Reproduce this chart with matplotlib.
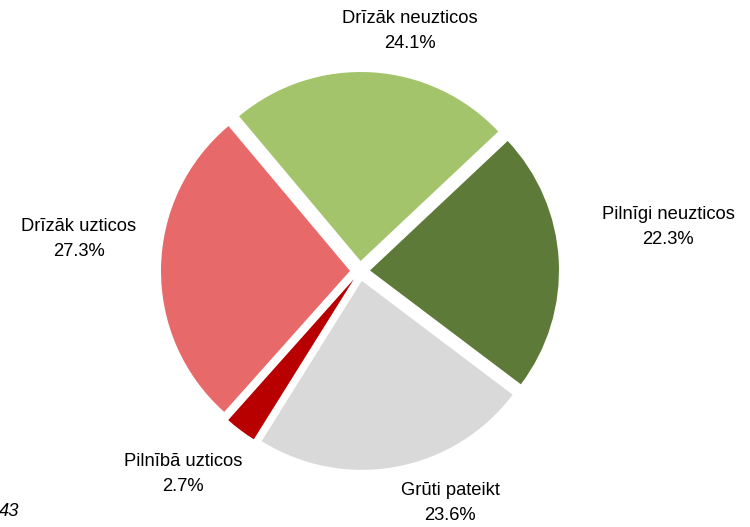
import matplotlib
matplotlib.use("Agg")
import matplotlib.pyplot as plt

# counterclockwise from the upper-left edge
labels = ["Drīzāk uzticos", "Pilnībā uzticos", "Grūti pateikt",
          "Pilnīgi neuzticos", "Drīzāk neuzticos"]
shares = [27.3, 2.7, 23.6, 22.3, 24.1]
colors = ["#E8696A", "#B80000", "#D9D9D9", "#5E7A38", "#A3C46A"]

# label anchor points in pixels (x from left, y from top)
label_xy = [(79, 239), (183, 474), (450, 503), (668, 227), (410, 31)]

W, H = 750, 527
fig = plt.figure(figsize=(W / 100, H / 100), dpi=100)
ax = fig.add_axes([0, 0, 1, 1])

# explode is in data units (pixels here)
ax.pie(shares, colors=colors, startangle=130, counterclock=True,
       center=(360, H - 271), radius=189, explode=[10] * len(shares),
       wedgeprops=dict(linewidth=0), frame=True)
ax.set_xlim(0, W)
ax.set_ylim(0, H)
ax.set_aspect("equal")
ax.axis("off")

for lab, val, (x, y) in zip(labels, shares, label_xy):
    ax.text(x, H - y, f"{lab}\n{val:.1f}%", ha="center", va="center",
            fontsize=13.2, family="Liberation Sans", linespacing=1.55)

ax.text(-1, H - 512, "43", ha="left", va="center", fontsize=13.2,
        style="italic", family="Liberation Sans")

fig.savefig("out.png", dpi=100)
